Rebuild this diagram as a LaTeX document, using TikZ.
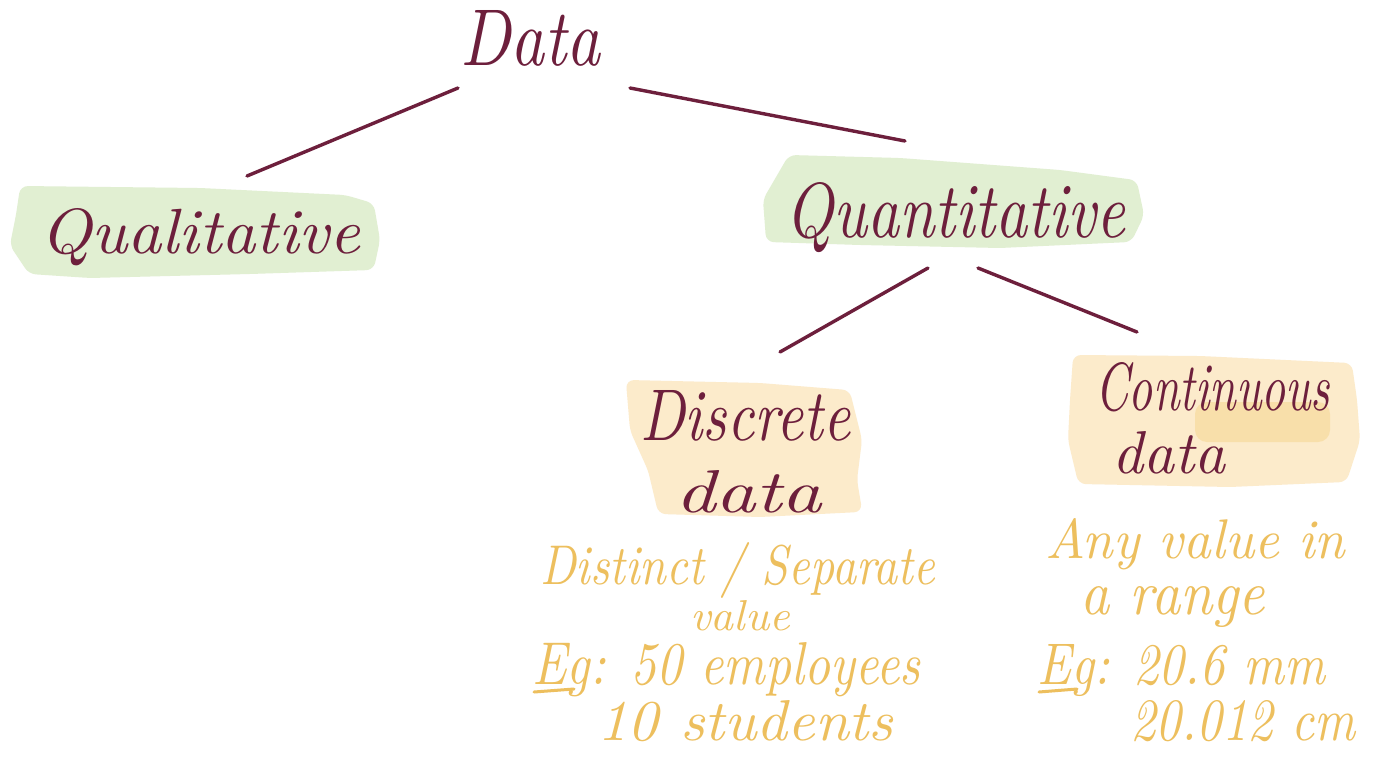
\documentclass[tikz,border=0pt]{standalone}
\usepackage{graphicx}
\definecolor{inkred}{HTML}{6D1F3C}
\definecolor{inkorange}{HTML}{EDBF5E}
\definecolor{hlgreen}{HTML}{E1EFD2}
\definecolor{hlyellow}{HTML}{FCEBCB}
\definecolor{hldark}{HTML}{F7DA9C}
\newcommand\hwtext[3]{\resizebox{#1pt}{#2pt}{#3}}
\tikzset{
  redtext/.style={inner sep=0pt, anchor=base west, text=inkred, font=\itshape},
  orgtext/.style={inner sep=0pt, anchor=base west, text=inkorange, font=\itshape},
  link/.style={draw=inkred, line width=3.4pt, line cap=round},
  uline/.style={draw=inkorange, line width=3pt, line cap=round},
  hlg/.style={fill=hlgreen, draw=hlgreen, line width=4pt, line join=round, rounded corners=6pt},
  hly/.style={fill=hlyellow, draw=hlyellow, line width=4pt, line join=round, rounded corners=6pt},
}
\begin{document}
\begin{tikzpicture}[x=1pt,y=-1pt]
\useasboundingbox[fill=white] (0,0) rectangle (1400,763);
% highlights
\path[hlg] (22,188) -- (200,190) -- (345,197) -- (372,205) -- (378,240) -- (372,268) -- (250,272) -- (90,276) -- (30,272) -- (12,245) -- (18,215) -- cycle;
\path[hlg] (790,157) -- (900,160) -- (1060,172) -- (1135,182) -- (1142,215) -- (1130,240) -- (1000,246) -- (860,243) -- (768,240) -- (765,200) -- cycle;
\path[hly] (628,382) -- (760,385) -- (848,392) -- (860,440) -- (855,480) -- (860,510) -- (760,515) -- (660,512) -- (650,470) -- (632,430) -- cycle;
\path[hly] (1075,357) -- (1200,358) -- (1350,365) -- (1355,400) -- (1358,440) -- (1345,480) -- (1230,485) -- (1080,482) -- (1070,440) -- (1072,400) -- cycle;
\path[fill=hldark, opacity=0.7, rounded corners=12pt] (1195,402) rectangle (1330,442);
% texts
\node[redtext] (data) at (460,65) {\hwtext{140}{55}{Data}};
\node[redtext] (qual) at (40,253) {\hwtext{320}{45}{Qualitative}};
\node[redtext] (quant) at (785,237) {\hwtext{340}{55}{Quantitative}};
\node[redtext] (disc1) at (640,440) {\hwtext{210}{50}{Discrete}};
\node[redtext] (disc2) at (675,512) {\hwtext{147}{42}{data}};
\node[redtext] (cont1) at (1095,410) {\hwtext{235}{48}{Continuous}};
\node[redtext] (cont2) at (1112,473) {\hwtext{113}{42}{data}};
\node[orgtext] (dd1) at (540,584) {\hwtext{395}{42}{Distinct / Separate}};
\node[orgtext] (dd2) at (690,630) {\hwtext{100}{30}{value}};
\node[orgtext] (dd3) at (532,684) {\hwtext{388}{42}{Eg: 50 employees}};
\node[orgtext] (dd4) at (597,740) {\hwtext{296}{40}{10 students}};
\node[orgtext] (cd1) at (1045,558) {\hwtext{300}{40}{Any value in}};
\node[orgtext] (cd2) at (1080,614) {\hwtext{185}{28}{a range}};
\node[orgtext] (cd3) at (1037,684) {\hwtext{288}{40}{Eg: 20.6 mm}};
\node[orgtext] (cd4) at (1130,740) {\hwtext{225}{40}{20.012 cm}};
% underlines of "Eg"
\draw[uline] (534,692) -- (574,689);
\draw[uline] (1039,692) -- (1077,689);
% connector ends
\coordinate (dataL) at (458,88);
\coordinate (qualT) at (247,176);
\coordinate (dataR) at (630,88);
\coordinate (quantT) at (905,141);
\coordinate (quantBL) at (928,268);
\coordinate (discT) at (780,352);
\coordinate (quantBR) at (978,268);
\coordinate (contT) at (1137,332);
\draw[link] (dataL) -- (qualT);
\draw[link] (dataR) -- (quantT);
\draw[link] (quantBL) -- (discT);
\draw[link] (quantBR) -- (contT);
\end{tikzpicture}
\end{document}
